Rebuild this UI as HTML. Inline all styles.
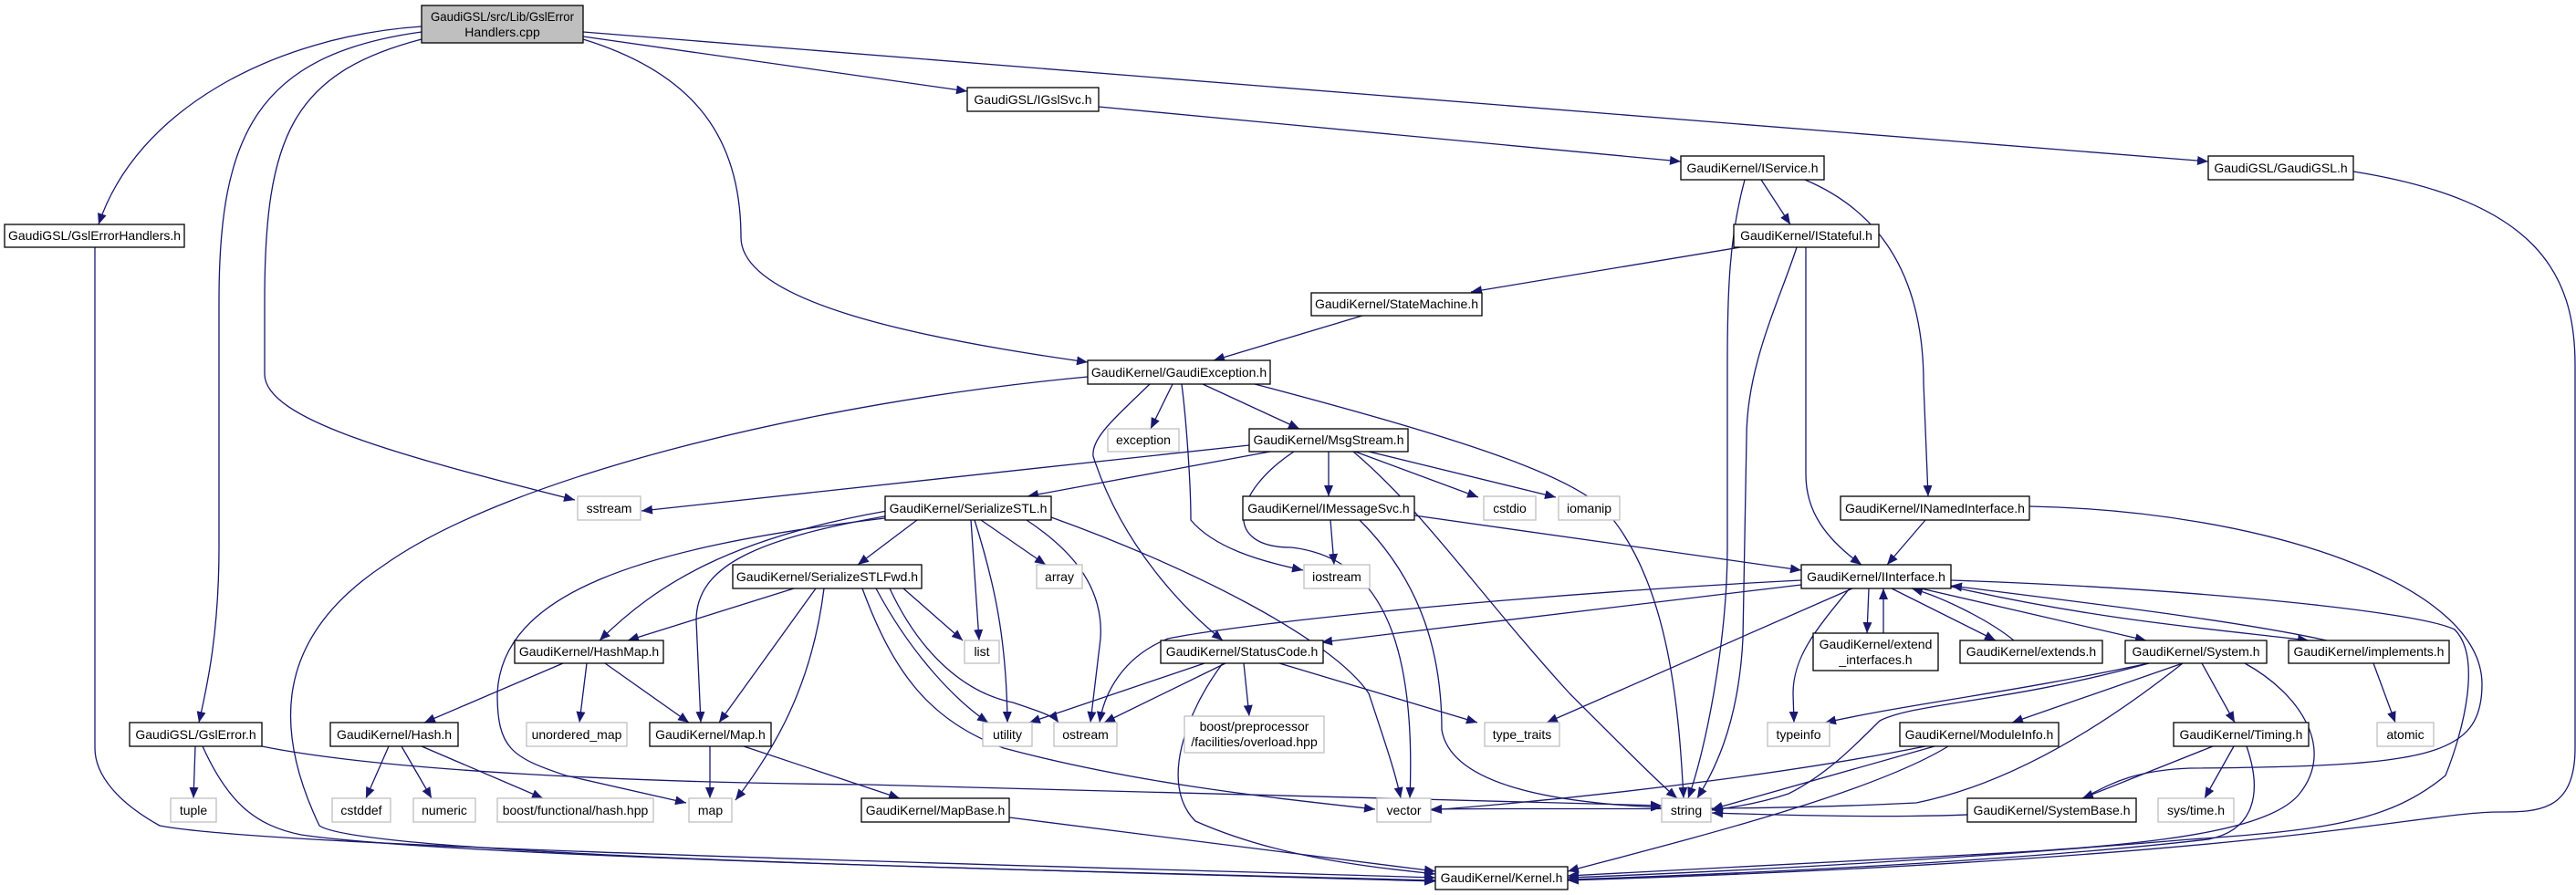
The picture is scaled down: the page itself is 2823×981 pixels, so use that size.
<!DOCTYPE html>
<html><head><meta charset="utf-8"><style>html,body{margin:0;padding:0;background:#fff}svg{display:block}text{font-family:"Liberation Sans",sans-serif;font-size:14px;fill:#000}</style></head>
<body>
<svg width="2823" height="981" viewBox="0 0 2823 981" xmlns="http://www.w3.org/2000/svg">
<defs><marker id="a" markerUnits="userSpaceOnUse" markerWidth="12" markerHeight="10" refX="12" refY="5" orient="auto"><path d="M0,0 L12,5 L0,10 z" fill="#191970"/></marker></defs>
<g fill="none" stroke="#191970" stroke-width="1.3" marker-end="url(#a)">
<path d="M462,29 C300,40 150,120 108,246"/>
<path d="M462,35 C280,60 240,150 240,330 L240,600 C240,700 225,760 218,792"/>
<path d="M462,43 C320,80 290,150 290,330 L290,410 C290,460 440,500 630,548"/>
<path d="M639,43 C760,80 812,150 812,260 C812,330 1000,370 1192,397"/>
<path d="M639,40 L1060,100"/>
<path d="M639,35 L2420,177"/>
<path d="M104,271 L104,820 C104,850 130,880 175,905 C300,930 1200,950 1573,962"/>
<path d="M1204,117 L1842,177"/>
<path d="M2579,188 C2780,220 2822,300 2822,400 L2822,820 C2822,890 2780,890 2740,890 C2650,890 2500,940 1718,965"/>
<path d="M1930,197 L1962,246"/>
<path d="M1978,197 C2080,240 2108,330 2108,420 L2113,544"/>
<path d="M1912,197 C1895,260 1893,320 1893,400 L1893,600 C1893,700 1870,820 1850,875"/>
<path d="M1907,271 L1612,320"/>
<path d="M1979,271 L1979,520 C1979,560 2000,590 2040,619"/>
<path d="M1969,271 C1950,330 1914,400 1914,480 L1910,700 C1905,800 1875,850 1860,875"/>
<path d="M1493,346 L1330,395"/>
<path d="M1285,421 L1261,470"/>
<path d="M1318,421 L1424,470"/>
<path d="M1260,421 C1220,460 1196,480 1198,500 C1230,600 1300,670 1340,702"/>
<path d="M1295,421 C1300,460 1305,530 1305,570 C1330,600 1380,615 1428,625"/>
<path d="M1375,421 C1600,480 1720,520 1760,560 C1830,640 1840,780 1845,875"/>
<path d="M1192,413 C900,440 560,520 420,620 C300,700 300,800 350,905 C400,940 1200,955 1573,965"/>
<path d="M1369,488 L703,560"/>
<path d="M1392,495 L1126,544"/>
<path d="M1456,495 L1456,544"/>
<path d="M1485,495 L1620,545"/>
<path d="M1500,495 L1705,545"/>
<path d="M1418,495 C1350,540 1340,600 1415,600 C1500,610 1553,680 1545,875"/>
<path d="M1483,495 C1560,560 1620,650 1720,760 C1780,820 1820,860 1838,875"/>
<path d="M1458,570 L1462,619"/>
<path d="M1550,565 L1974,625"/>
<path d="M1490,570 C1560,640 1580,720 1580,800 C1590,860 1700,880 1821,885"/>
<path d="M2110,570 L2068,619"/>
<path d="M2224,555 C2480,560 2720,640 2720,750 C2720,830 2660,840 2400,842 C2320,845 2300,870 2270,880 C2200,900 2000,895 1876,891"/>
<path d="M1005,570 L940,619"/>
<path d="M972,560 C800,590 720,640 657,702"/>
<path d="M870,645 L688,702"/>
<path d="M975,565 C830,590 763,620 763,680 L768,792"/>
<path d="M894,645 L788,792"/>
<path d="M970,568 C700,600 550,650 545,760 C545,820 560,830 620,850 L752,880"/>
<path d="M903,645 C890,750 850,820 806,877"/>
<path d="M1075,570 L1146,619"/>
<path d="M1064,570 L1073,702"/>
<path d="M1068,570 C1090,640 1103,700 1104,792"/>
<path d="M1125,570 C1170,600 1210,640 1206,700 L1195,792"/>
<path d="M1152,567 C1300,620 1460,700 1500,760 C1520,820 1530,850 1535,875"/>
<path d="M990,645 L1055,702"/>
<path d="M960,645 C1000,720 1050,770 1083,792"/>
<path d="M975,645 C1010,720 1060,760 1110,770 C1140,780 1155,785 1160,792"/>
<path d="M945,645 C980,740 1020,790 1100,820 C1250,860 1400,875 1507,887"/>
<path d="M617,727 L465,792"/>
<path d="M643,727 L635,792"/>
<path d="M663,727 L755,792"/>
<path d="M426,818 L401,875"/>
<path d="M440,818 L473,875"/>
<path d="M462,818 L595,875"/>
<path d="M778,818 L778,875"/>
<path d="M815,818 L986,875"/>
<path d="M1106,896 L1573,955"/>
<path d="M214,818 L212,875"/>
<path d="M222,818 C250,880 280,905 330,915 C500,940 1200,955 1573,966"/>
<path d="M287,818 C420,845 700,858 950,860 L1821,883"/>
<path d="M1320,727 L1128,792"/>
<path d="M1343,727 L1210,792"/>
<path d="M1363,727 L1369,785"/>
<path d="M1402,727 L1619,792"/>
<path d="M1340,727 C1300,780 1270,860 1310,900 C1400,940 1500,950 1573,958"/>
<path d="M1974,636 C1700,650 1380,680 1280,700 C1230,720 1210,760 1205,792"/>
<path d="M1974,641 L1448,704"/>
<path d="M2030,645 L1695,792"/>
<path d="M2027,645 C1990,690 1965,720 1965,760 L1966,792"/>
<path d="M2048,645 L2046,694"/>
<path d="M2064,694 L2064,645"/>
<path d="M2073,645 L2187,702"/>
<path d="M2207,702 C2180,680 2130,655 2095,645"/>
<path d="M2105,645 L2352,702"/>
<path d="M2138,643 C2300,680 2430,690 2530,702"/>
<path d="M2550,702 C2450,680 2280,660 2138,642"/>
<path d="M2138,636 C2400,645 2650,670 2690,690 C2720,720 2700,800 2680,850 C2620,900 2550,910 2400,920 C2100,945 1900,955 1718,962"/>
<path d="M2355,727 C2200,760 2100,770 2000,792"/>
<path d="M2392,727 L2205,792"/>
<path d="M2413,727 L2449,792"/>
<path d="M2355,727 C2200,770 2100,770 2060,790 C2030,820 2000,850 1960,870 C1930,880 1900,885 1876,888"/>
<path d="M2392,727 C2300,800 2200,860 2100,880 C1900,890 1700,885 1568,887"/>
<path d="M2460,727 C2520,760 2560,820 2520,870 C2480,920 2300,930 2100,940 C1900,950 1800,955 1718,960"/>
<path d="M2120,818 L1876,887"/>
<path d="M2110,818 C2000,840 1800,870 1568,888"/>
<path d="M2135,818 C2050,870 1850,920 1718,955"/>
<path d="M2425,818 L2282,875"/>
<path d="M2448,818 L2416,875"/>
<path d="M2462,818 C2480,870 2470,910 2420,920 C2200,945 1900,958 1718,964"/>
<path d="M2601,727 L2625,792"/>
</g>
<g stroke-width="1.3">
<rect x="462" y="6" width="177" height="41" fill="#bfbfbf" stroke="#000"/>
<text x="550.5" y="23" text-anchor="middle" textLength="157" lengthAdjust="spacingAndGlyphs">GaudiGSL/src/Lib/GslError</text>
<text x="550.5" y="40" text-anchor="middle">Handlers.cpp</text>
</g>
<g fill="#fff" stroke="#000" stroke-width="1.3">
<rect x="5" y="246" width="197" height="25"/><rect x="1060" y="96" width="144" height="26"/><rect x="1842" y="171" width="157" height="26"/><rect x="2420" y="171" width="159" height="26"/><rect x="1900" y="246" width="159" height="25"/><rect x="1437" y="321" width="187" height="25"/><rect x="1192" y="395" width="200" height="26"/><rect x="1369" y="470" width="174" height="25"/><rect x="970" y="544" width="182" height="26"/><rect x="1362" y="544" width="188" height="26"/><rect x="2017" y="544" width="207" height="26"/><rect x="803" y="619" width="207" height="26"/><rect x="1974" y="619" width="164" height="26"/><rect x="564" y="702" width="163" height="25"/><rect x="1272" y="702" width="178" height="25"/><rect x="1987" y="694" width="137" height="41"/><rect x="2148" y="702" width="156" height="25"/><rect x="2329" y="702" width="155" height="25"/><rect x="2508" y="702" width="176" height="25"/><rect x="142" y="792" width="145" height="26"/><rect x="362" y="792" width="140" height="26"/><rect x="712" y="792" width="133" height="26"/><rect x="2082" y="792" width="174" height="26"/><rect x="2382" y="792" width="148" height="26"/><rect x="944" y="875" width="162" height="26"/><rect x="2156" y="875" width="185" height="26"/><rect x="1573" y="950" width="145" height="25"/>
</g>
<g fill="#fff" stroke="#bfbfbf" stroke-width="1.3">
<rect x="1214" y="470" width="78" height="25"/><rect x="633" y="544" width="69" height="26"/><rect x="1626" y="544" width="57" height="26"/><rect x="1708" y="544" width="67" height="26"/><rect x="1136" y="619" width="50" height="26"/><rect x="1429" y="619" width="72" height="26"/><rect x="1057" y="702" width="38" height="25"/><rect x="577" y="792" width="110" height="26"/><rect x="1077" y="792" width="54" height="26"/><rect x="1155" y="792" width="69" height="26"/><rect x="1298" y="785" width="153" height="40"/><rect x="1627" y="792" width="82" height="26"/><rect x="1937" y="792" width="68" height="26"/><rect x="2605" y="792" width="62" height="26"/><rect x="187" y="875" width="50" height="26"/><rect x="364" y="875" width="64" height="26"/><rect x="453" y="875" width="68" height="26"/><rect x="545" y="875" width="171" height="26"/><rect x="755" y="875" width="47" height="26"/><rect x="1509" y="875" width="59" height="26"/><rect x="1821" y="875" width="54" height="26"/><rect x="2365" y="875" width="83" height="26"/>
</g>
<g text-anchor="middle">
<text x="103.5" y="263">GaudiGSL/GslErrorHandlers.h</text>
<text x="1132" y="114">GaudiGSL/IGslSvc.h</text>
<text x="1920.5" y="189">GaudiKernel/IService.h</text>
<text x="2499.5" y="189">GaudiGSL/GaudiGSL.h</text>
<text x="1979.5" y="263">GaudiKernel/IStateful.h</text>
<text x="1530.5" y="338">GaudiKernel/StateMachine.h</text>
<text x="1292" y="413">GaudiKernel/GaudiException.h</text>
<text x="1456" y="487">GaudiKernel/MsgStream.h</text>
<text x="1061" y="562">GaudiKernel/SerializeSTL.h</text>
<text x="1456" y="562">GaudiKernel/IMessageSvc.h</text>
<text x="2120.5" y="562">GaudiKernel/INamedInterface.h</text>
<text x="906.5" y="637">GaudiKernel/SerializeSTLFwd.h</text>
<text x="2056" y="637">GaudiKernel/IInterface.h</text>
<text x="645.5" y="719">GaudiKernel/HashMap.h</text>
<text x="1361" y="719">GaudiKernel/StatusCode.h</text>
<text x="2055.5" y="711">GaudiKernel/extend</text>
<text x="2055.5" y="728">_interfaces.h</text>
<text x="2226" y="719">GaudiKernel/extends.h</text>
<text x="2406.5" y="719">GaudiKernel/System.h</text>
<text x="2596" y="719">GaudiKernel/implements.h</text>
<text x="214.5" y="810">GaudiGSL/GslError.h</text>
<text x="432" y="810">GaudiKernel/Hash.h</text>
<text x="778.5" y="810">GaudiKernel/Map.h</text>
<text x="2169" y="810">GaudiKernel/ModuleInfo.h</text>
<text x="2456" y="810">GaudiKernel/Timing.h</text>
<text x="1025" y="893">GaudiKernel/MapBase.h</text>
<text x="2248.5" y="893">GaudiKernel/SystemBase.h</text>
<text x="1645.5" y="967">GaudiKernel/Kernel.h</text>
<text x="1253" y="487">exception</text>
<text x="667.5" y="562">sstream</text>
<text x="1654.5" y="562">cstdio</text>
<text x="1741.5" y="562">iomanip</text>
<text x="1161" y="637">array</text>
<text x="1465" y="637">iostream</text>
<text x="1076" y="719">list</text>
<text x="632" y="810">unordered_map</text>
<text x="1104" y="810">utility</text>
<text x="1189.5" y="810">ostream</text>
<text x="1374.5" y="801">boost/preprocessor</text>
<text x="1374.5" y="818">/facilities/overload.hpp</text>
<text x="1668" y="810">type_traits</text>
<text x="1971" y="810">typeinfo</text>
<text x="2636" y="810">atomic</text>
<text x="212" y="893">tuple</text>
<text x="396" y="893">cstddef</text>
<text x="487" y="893">numeric</text>
<text x="630.5" y="893">boost/functional/hash.hpp</text>
<text x="778.5" y="893">map</text>
<text x="1538.5" y="893">vector</text>
<text x="1848" y="893">string</text>
<text x="2406.5" y="893">sys/time.h</text>
</g>
</svg>
</body></html>
